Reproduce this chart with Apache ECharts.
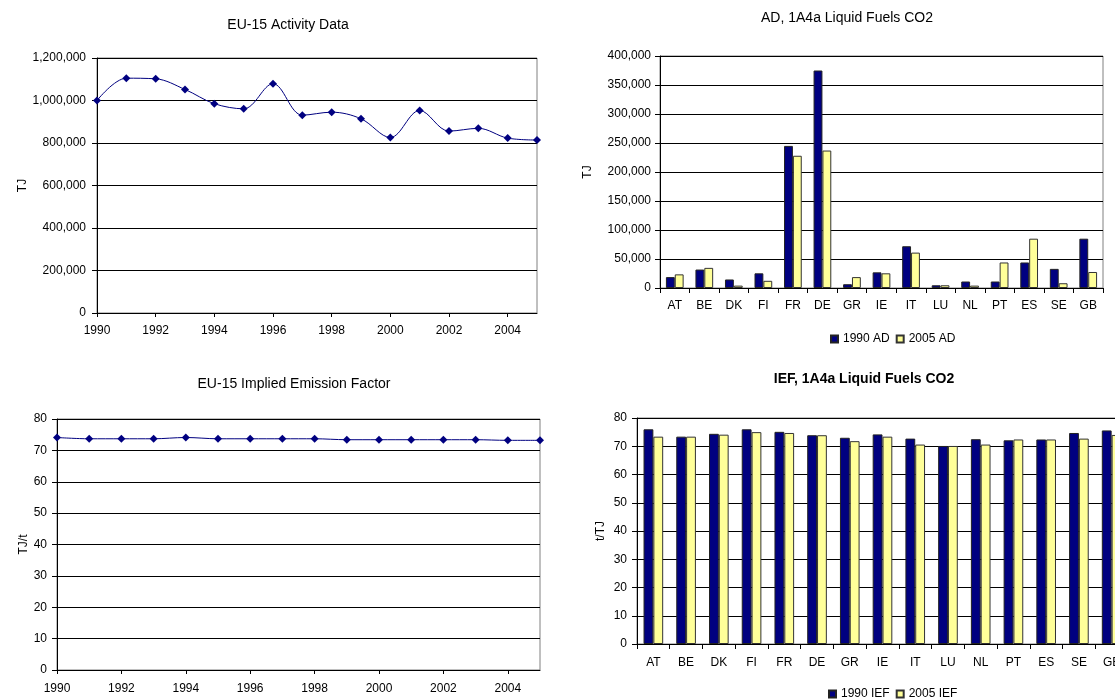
<!DOCTYPE html>
<html>
<head>
<meta charset="utf-8">
<script src="https://cdn.jsdelivr.net/npm/echarts@6/dist/echarts.min.js"></script>
<style>
html,body{margin:0;padding:0;background:#fff;}
#chart{width:1115px;height:700px;}
</style>
</head>
<body>
<div id="chart"></div>
<script>
const years = ['1990','1991','1992','1993','1994','1995','1996','1997','1998','1999','2000','2001','2002','2003','2004','2005'];
const euActivity = [1000000,1105000,1102000,1052000,985000,961000,1079000,931000,945000,914000,826000,953000,856000,869000,823000,814000];
const euIEF = [74.1,73.7,73.7,73.7,74.1,73.7,73.7,73.7,73.7,73.4,73.4,73.4,73.4,73.4,73.2,73.2];
const countries = ['AT','BE','DK','FI','FR','DE','GR','IE','IT','LU','NL','PT','ES','SE','GB'];
const ad1990 = [18800,31800,14700,25300,245000,375000,6500,27000,72000,4700,11200,11200,44000,33000,85000];
const ad2005 = [23500,34700,4100,12400,228000,237000,18800,25300,61000,4700,4100,44000,85000,8200,27600];
const ief1990 = [76.0,73.4,74.4,76.0,75.1,73.9,73.0,74.2,72.7,70.1,72.5,72.1,72.4,74.7,75.6];
const ief2005 = [73.4,73.4,74.1,75.0,74.7,73.9,71.8,73.4,70.6,70.1,70.6,72.4,72.4,72.7,74.0];

const FONT = "'Liberation Sans', Arial, sans-serif";
const NAVY = '#000080';
const YELLOW = '#FFFF99';
const txt = {color:'#000', fontFamily: FONT, fontSize: 12};
const fmt = v => Number(v).toLocaleString('en-US');

function yAx(grid, min, max, interval, name, gap, margin){
  return {
    type:'value', gridIndex:grid, min:min, max:max, interval:interval,
    name:name, nameLocation:'middle', nameRotate:90, nameGap:gap,
    nameTextStyle:Object.assign({}, txt),
    axisLine:{show:true, lineStyle:{color:'#000', width:1}},
    axisTick:{show:true, length:5, lineStyle:{color:'#000'}},
    axisLabel:Object.assign({formatter:fmt, margin:margin}, txt),
    splitLine:{show:true, lineStyle:{color:'#000', width:1}}
  };
}
function xCatLine(grid, margin){
  return {
    type:'category', gridIndex:grid, data:years, boundaryGap:false,
    axisLine:{show:true, lineStyle:{color:'#000'}},
    axisTick:{show:true, interval:1, length:4, lineStyle:{color:'#000'}},
    axisLabel:Object.assign({interval:1, margin:margin}, txt),
    splitLine:{show:false}
  };
}
function xCatBar(grid, margin){
  return {
    type:'category', gridIndex:grid, data:countries, boundaryGap:true,
    axisLine:{show:true, lineStyle:{color:'#000'}},
    axisTick:{show:true, length:5, lineStyle:{color:'#000'}},
    axisLabel:Object.assign({interval:0, margin:margin}, txt),
    splitLine:{show:false}
  };
}
const gridBase = {show:true, borderColor:'#808080', borderWidth:1, backgroundColor:'#fff', containLabel:false, outerBoundsMode:'none'};
const titleStyle = w => ({fontFamily:FONT, fontSize:14, fontWeight:w, color:'#000'});

const option = {
  animation:false,
  backgroundColor:'#fff',
  textStyle:{fontFamily:FONT},
  title:[
    {text:'EU-15 Activity Data', left:283, top:13, textAlign:'center', textStyle:titleStyle('normal')},
    {text:'AD, 1A4a Liquid Fuels CO2', left:842, top:6, textAlign:'center', textStyle:titleStyle('normal')},
    {text:'EU-15 Implied Emission Factor', left:289, top:372, textAlign:'center', textStyle:titleStyle('normal')},
    {text:'IEF, 1A4a Liquid Fuels CO2', left:859, top:367, textAlign:'center', textStyle:titleStyle('bold')}
  ],
  legend:[
    {data:['1990 AD','2005 AD'], left:825, top:328, itemWidth:7, itemHeight:7, itemGap:6,
     textStyle:Object.assign({}, txt, {fontSize:12}), icon:'rect'},
    {data:['1990 IEF','2005 IEF'], left:823, top:683, itemWidth:7, itemHeight:7, itemGap:6,
     textStyle:Object.assign({}, txt, {fontSize:12}), icon:'rect'}
  ],
  grid:[
    Object.assign({left:97, top:58, width:440, height:255}, gridBase),
    Object.assign({left:660, top:56, width:443, height:232}, gridBase),
    Object.assign({left:57, top:419, width:483, height:251}, gridBase),
    Object.assign({left:637, top:418, width:491, height:226}, gridBase)
  ],
  xAxis:[ xCatLine(0, 12), xCatBar(1, 12), xCatLine(2, 13), xCatBar(3, 13) ],
  yAxis:[
    yAx(0, 0, 1200000, 200000, 'TJ', 68, 11),
    yAx(1, 0, 400000, 50000, 'TJ', 66, 9),
    yAx(2, 0, 80, 10, 'TJ/t', 27, 10),
    yAx(3, 0, 80, 10, 't/TJ', 30, 10)
  ],
  series:[
    {name:'EU-15 AD', type:'line', xAxisIndex:0, yAxisIndex:0, data:euActivity, smooth:0.35,
     symbol:'diamond', symbolSize:8, lineStyle:{color:NAVY, width:1}, itemStyle:{color:NAVY}},
    {name:'1990 AD', type:'bar', xAxisIndex:1, yAxisIndex:1, data:ad1990, barGap:'0%', barCategoryGap:'40%',
     itemStyle:{color:NAVY, borderColor:'#222', borderWidth:1}},
    {name:'2005 AD', type:'bar', xAxisIndex:1, yAxisIndex:1, data:ad2005, barGap:'0%', barCategoryGap:'40%',
     itemStyle:{color:YELLOW, borderColor:'#333', borderWidth:1}},
    {name:'EU-15 IEF', type:'line', xAxisIndex:2, yAxisIndex:2, data:euIEF, smooth:0.35,
     symbol:'diamond', symbolSize:8, lineStyle:{color:NAVY, width:1}, itemStyle:{color:NAVY}},
    {name:'1990 IEF', type:'bar', xAxisIndex:3, yAxisIndex:3, data:ief1990, barGap:'0%', barCategoryGap:'40%',
     itemStyle:{color:NAVY, borderColor:'#222', borderWidth:1}},
    {name:'2005 IEF', type:'bar', xAxisIndex:3, yAxisIndex:3, data:ief2005, barGap:'0%', barCategoryGap:'40%',
     itemStyle:{color:YELLOW, borderColor:'#333', borderWidth:1}}
  ]
};
const chart = echarts.init(document.getElementById('chart'), null, {renderer:'canvas'});
chart.setOption(option);
</script>
</body>
</html>
